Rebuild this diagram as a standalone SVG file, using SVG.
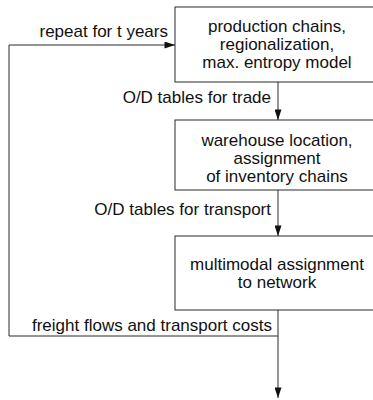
<svg xmlns="http://www.w3.org/2000/svg" width="373" height="400" viewBox="0 0 373 400">
  <style>
    .box { fill: #ffffff; stroke: #2a2a2a; stroke-width: 1; }
    .line { fill: none; stroke: #2a2a2a; stroke-width: 1; }
    text { font-family: "Liberation Sans", Arial, Helvetica, sans-serif; font-size: 17px; fill: #111111; }
    .c { text-anchor: middle; }
    .r { text-anchor: end; }
  </style>
  <defs>
    <marker id="arrow" viewBox="0 0 12 8" refX="12" refY="4" markerWidth="12" markerHeight="7" markerUnits="userSpaceOnUse" orient="auto">
      <path d="M0,0 L12,4 L0,8 Z" fill="#111111"/>
    </marker>
  </defs>

  <rect width="373" height="400" fill="#ffffff"/>

  <g id="connectors">
    <!-- feedback loop back to the first stage -->
    <polyline class="line" points="278,336 9,336 9,45 175,45" marker-end="url(#arrow)"/>
    <line class="line" x1="278" y1="82" x2="278" y2="120" marker-end="url(#arrow)"/>
    <line class="line" x1="278" y1="190" x2="278" y2="236" marker-end="url(#arrow)"/>
    <line class="line" x1="278" y1="310" x2="278" y2="398" marker-end="url(#arrow)"/>
    <text class="r" x="168" y="37">repeat for t years</text>
    <text class="r" x="271" y="103">O/D tables for trade</text>
    <text class="r" x="271" y="215">O/D tables for transport</text>
    <text class="r" x="272" y="331">freight flows and transport costs</text>
  </g>

  <g id="production">
    <rect class="box" x="175" y="7" width="210" height="75"/>
    <text class="c" x="277" y="32">production chains,</text>
    <text class="c" x="277" y="50">regionalization,</text>
    <text class="c" x="277" y="68">max. entropy model</text>
  </g>

  <g id="warehouse">
    <rect class="box" x="175" y="120" width="210" height="70"/>
    <text class="c" x="277" y="146">warehouse location,</text>
    <text class="c" x="277" y="164">assignment</text>
    <text class="c" x="277" y="182">of inventory chains</text>
  </g>

  <g id="multimodal">
    <rect class="box" x="175" y="236" width="210" height="74"/>
    <text class="c" x="277" y="270">multimodal assignment</text>
    <text class="c" x="277" y="288">to network</text>
  </g>
</svg>
